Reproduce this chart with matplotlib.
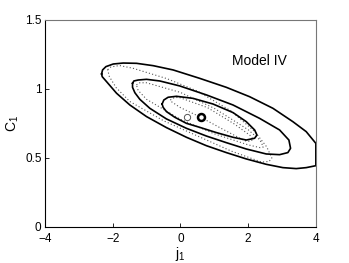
import matplotlib
matplotlib.use("Agg")
import matplotlib.pyplot as plt

plt.rcParams['font.family'] = ['Liberation Sans', 'DejaVu Sans']
plt.rcParams['mathtext.default'] = 'regular'

# Solid contours (traced, closed)
solid_outer_x = [-2.329, -2.300, -2.201, -1.985, -1.690, -1.297, -0.806, -0.216, 0.570, 1.356, 2.044, 2.732, 3.322, 3.715, 4.000,
                 4.000, 3.715, 3.420, 3.027, 2.536, 1.946, 1.356, 0.767, 0.177, -0.413, -1.002, -1.494, -1.887, -2.182, -2.310, -2.329]
solid_outer_y = [1.109, 1.138, 1.162, 1.181, 1.188, 1.186, 1.169, 1.138, 1.077, 1.012, 0.944, 0.860, 0.763, 0.691, 0.606,
                 0.444, 0.430, 0.423, 0.430, 0.454, 0.493, 0.539, 0.589, 0.650, 0.720, 0.800, 0.884, 0.969, 1.053, 1.089, 1.109]
solid_mid_x = [-1.415, -1.376, -1.248, -1.002, -0.609, -0.020, 0.767, 1.553, 2.339, 2.929, 3.204, 3.253, 3.174, 2.929, 2.536,
               1.946, 1.356, 0.767, 0.177, -0.413, -0.904, -1.199, -1.346, -1.415, -1.415]
solid_mid_y = [1.041, 1.058, 1.065, 1.070, 1.058, 1.022, 0.957, 0.884, 0.787, 0.703, 0.630, 0.570, 0.539, 0.524, 0.529,
               0.565, 0.611, 0.659, 0.715, 0.783, 0.860, 0.925, 0.973, 1.012, 1.041]
solid_in_x = [-0.541, -0.491, -0.364, -0.118, 0.373, 0.963, 1.553, 1.946, 2.192, 2.260, 2.192, 1.946, 1.553, 1.061, 0.570,
              0.177, -0.167, -0.413, -0.511, -0.541]
solid_in_y = [0.891, 0.920, 0.940, 0.947, 0.932, 0.891, 0.829, 0.763, 0.703, 0.667, 0.643, 0.630, 0.650, 0.684, 0.722,
              0.751, 0.795, 0.836, 0.867, 0.891]

# Dotted contours (traced, closed)
dot_outer_x = [-2.15, -2.05, -1.80, -1.40, -1.00, -0.40, 0.50, 1.50, 2.20, 2.55, 2.70, 2.62, 2.40, 1.50, 0.50, -0.50, -1.50, -1.90, -2.10, -2.15]
dot_outer_y = [1.140, 1.160, 1.170, 1.150, 1.120, 1.075, 0.985, 0.840, 0.690, 0.580, 0.500, 0.475, 0.470, 0.550, 0.660, 0.770, 0.910, 1.010, 1.090, 1.140]
dot_mid_x = [-1.30, -1.20, -1.00, 0.00, 1.00, 2.00, 2.35, 2.45, 2.35, 2.00, 1.00, 0.00, -1.00, -1.25, -1.30]
dot_mid_y = [1.030, 1.045, 1.045, 0.975, 0.860, 0.705, 0.630, 0.580, 0.575, 0.595, 0.675, 0.780, 0.925, 0.990, 1.030]
dot_in_x = [-0.30, -0.20, -0.05, 0.80, 1.60, 2.05, 2.15, 2.05, 1.90, 1.20, 0.60, 0.00, -0.25, -0.30]
dot_in_y = [0.920, 0.935, 0.940, 0.865, 0.745, 0.665, 0.635, 0.620, 0.625, 0.715, 0.795, 0.865, 0.905, 0.920]

best_fit = (0.6, 0.8)
alt_fit = (0.2, 0.8)

fig = plt.figure(figsize=(3.49, 2.63), dpi=100)
ax = fig.add_axes([0.129, 0.137, 0.776, 0.787])

for xs, ys in [(dot_outer_x, dot_outer_y), (dot_mid_x, dot_mid_y), (dot_in_x, dot_in_y)]:
    ax.plot(xs, ys, linestyle=(0, (1, 2)), color='#555555', lw=0.8)
for xs, ys in [(solid_outer_x, solid_outer_y), (solid_mid_x, solid_mid_y), (solid_in_x, solid_in_y)]:
    ax.plot(xs, ys, color='black', lw=1.2, solid_joinstyle='round')

ax.plot([alt_fit[0]], [alt_fit[1]], 'o', ms=4.5, mfc='white', mec='#555555', mew=0.7)
ax.plot([best_fit[0]], [best_fit[1]], 'o', ms=5, mfc='white', mec='black', mew=1.8)

ax.text(1.52, 1.2, 'Model IV', fontsize=10, va='center', ha='left')

ax.set_xlim(-4, 4)
ax.set_ylim(0, 1.5)
ax.set_xticks([-4, -2, 0, 2, 4])
ax.set_xticklabels(['\u22124', '\u22122', '0', '2', '4'])
ax.set_yticks([0, 0.5, 1, 1.5])
ax.set_yticklabels(['0', '0.5', '1', '1.5'])
ax.tick_params(direction='in', length=3, width=0.6, labelsize=8.5)
ax.tick_params(axis='x', pad=4)
ax.tick_params(axis='y', pad=2.5)
for s in ['top', 'right']:
    ax.spines[s].set_color('#777777')
for s in ax.spines.values():
    s.set_linewidth(0.8)
ax.set_xlabel('j$_1$', fontsize=10, labelpad=0)
ax.set_ylabel('C$_1$', fontsize=10, labelpad=3)

fig.savefig('out.png', dpi=100)
